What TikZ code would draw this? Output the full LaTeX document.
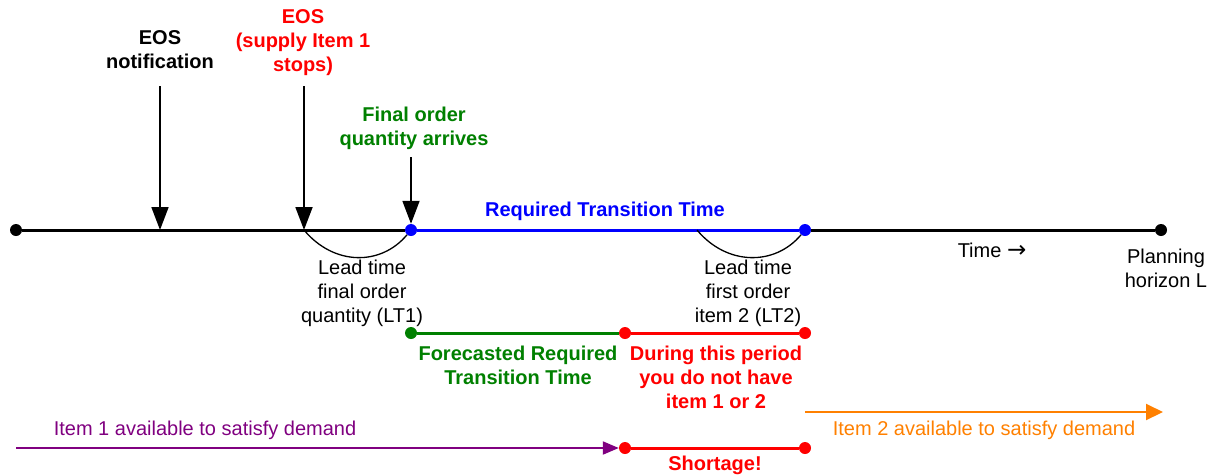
\documentclass[tikz,border=0pt]{standalone}
\usepackage{fontspec}
\setmainfont{Liberation Sans}
\newfontfamily\symfont{DejaVu Sans}
\usetikzlibrary{arrows.meta}

\definecolor{eosred}{RGB}{255,0,0}
\definecolor{lotgreen}{RGB}{0,128,0}
\definecolor{rttblue}{RGB}{0,0,255}
\definecolor{itempurple}{RGB}{128,0,128}
\definecolor{itemorange}{RGB}{255,128,0}

\begin{document}
\begin{tikzpicture}[x=1pt,y=-1pt,
    dot/.style={circle,fill,inner sep=0pt,minimum size=12pt},
    txt/.style={align=center,font=\fontsize{20}{24}\selectfont},
    btxt/.style={align=center,font=\fontsize{20}{24}\selectfont\bfseries},
    marker/.style={-{Triangle[length=23pt,width=17pt]},line width=1.8pt}]
    \useasboundingbox (0,0) rectangle (1209,475);

    % time axis
    \node[dot] (start) at (16,230) {};
    \node[dot] (horizon) at (1161,230) {};
    \node[dot,rttblue] (arrive) at (411,230) {};
    \node[dot,rttblue] (firstin) at (805,230) {};
    \coordinate (notif) at (160,230);
    \coordinate (eos) at (304,230);
    \coordinate (order2) at (697,230);
    \draw[line width=3pt] (start) -- (arrive);
    \draw[line width=3pt] (firstin) -- (horizon);
    \draw[rttblue,line width=3pt] (arrive) -- (firstin);
    \node[btxt,rttblue] (rtt) at (605,211) {Required Transition Time};
    \node[txt] (time) at (992,250) {Time {\symfont\fontsize{23}{24}\selectfont →}};
    \node[txt] (plan) at (1166,268) {Planning\\horizon L};

    % events
    \coordinate (notif top) at (160,86);
    \coordinate (eos top) at (304,86);
    \coordinate (arrive top) at (411,157);
    \draw[marker] (notif top) -- (notif);
    \draw[marker] (eos top) -- (eos);
    \draw[marker] (arrive top) -- (arrive);
    \node[btxt] (notiflbl) at (160,50) {EOS\\notification};
    \node[btxt,eosred] (eoslbl) at (303,43) {EOS\\(supply Item 1\\stops)};
    \node[btxt,lotgreen] (arrivelbl) at (414,128) {Final order\\quantity arrives};

    % lead times
    \draw[line width=1.3pt] (eos) .. controls +(30,36) and +(-30,36) .. (arrive);
    \draw[line width=1.3pt] (order2) .. controls +(30,36) and +(-30,36) .. (firstin);
    \node[txt] (lt1) at (362,293) {Lead time\\final order\\quantity (LT1)};
    \node[txt] (lt2) at (748,293) {Lead time\\first order\\item 2 (LT2)};

    % forecast and gap
    \node[dot,lotgreen] (fcstart) at (411,333) {};
    \node[dot,eosred] (fcend) at (625,333) {};
    \node[dot,eosred] (gapend) at (805,333) {};
    \draw[lotgreen,line width=3pt] (fcstart) -- (fcend);
    \draw[eosred,line width=3pt] (fcend) -- (gapend);
    \node[btxt,lotgreen] (fclbl) at (518,365) {Forecasted Required\\Transition Time};
    \node[btxt,eosred] (gaplbl) at (716,377) {During this period\\you do not have\\item 1 or 2};

    % availability
    \coordinate (item1) at (16,448);
    \node[dot,eosred] (shortL) at (625,448) {};
    \node[dot,eosred] (shortR) at (805,448) {};
    \coordinate (item2) at (805,412);
    \coordinate (item2 end) at (1163,412);
    \draw[itempurple,line width=2pt,-{Triangle[length=16pt,width=13pt]}] (item1) -- (shortL);
    \draw[eosred,line width=3pt] (shortL) -- (shortR);
    \draw[itemorange,line width=2pt,-{Triangle[length=17pt,width=16pt]}] (item2) -- (item2 end);
    \node[txt,itempurple] (item1lbl) at (205,430) {Item 1 available to satisfy demand};
    \node[txt,itemorange] (item2lbl) at (984,430) {Item 2 available to satisfy demand};
    \node[btxt,eosred] (short) at (715,465) {Shortage!};
\end{tikzpicture}
\end{document}
